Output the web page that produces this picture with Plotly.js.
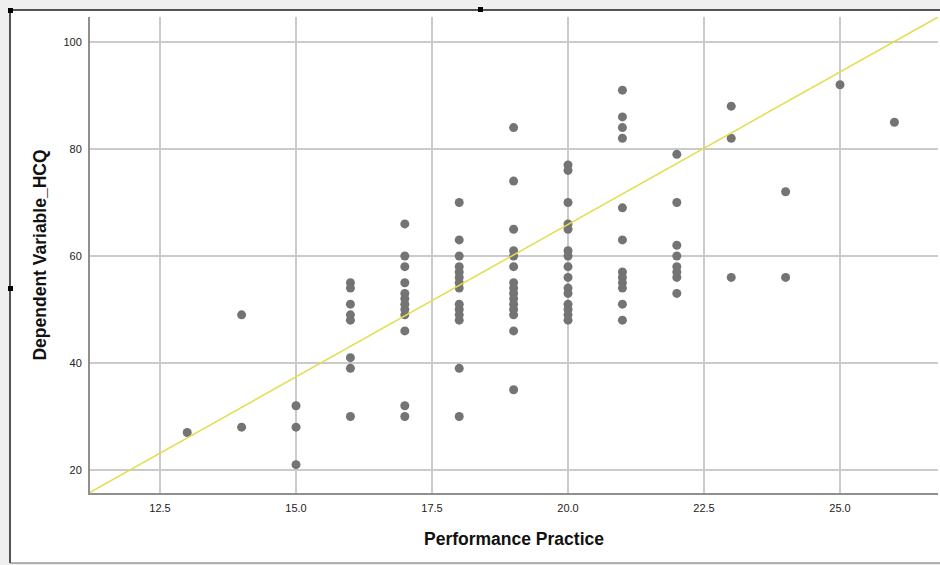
<!DOCTYPE html>
<html>
<head>
<meta charset="utf-8">
<script src="https://cdn.plot.ly/plotly-3.0.1.min.js"></script>
<style>
  html, body { margin: 0; padding: 0; background: #ffffff; }
  #chart { width: 940px; height: 565px; }
</style>
</head>
<body>
<div id="chart"></div>
<script>
// Performance Practice score levels and Dependent Variable_HCQ values observed at each
const practiceLevels = [13, 14, 15, 16, 17, 18, 19, 20, 21, 22, 23, 24, 25, 26];
const hcqAt13 = [27];
const hcqAt14 = [49, 28];
const hcqAt15 = [32, 28, 21];
const hcqAt16 = [55, 54, 51, 49, 48, 41, 39, 30];
const hcqAt17 = [66, 60, 58, 55, 53, 52, 51, 50, 49, 46, 32, 30];
const hcqAt18 = [70, 63, 60, 58, 57, 56, 55, 54, 51, 50, 49, 48, 39, 30];
const hcqAt19 = [84, 74, 65, 61, 60, 58, 55, 54, 53, 52, 51, 50, 49, 46, 35];
const hcqAt20 = [77, 76, 70, 66, 65, 61, 60, 58, 56, 54, 53, 51, 50, 49, 48];
const hcqAt21 = [91, 86, 84, 82, 69, 63, 57, 56, 55, 54, 51, 48];
const hcqAt22 = [79, 70, 62, 60, 58, 57, 56, 53];
const hcqAt23 = [88, 82, 56];
const hcqAt24 = [72, 56];
const hcqAt25 = [92];
const hcqAt26 = [85];
const hcqGroups = [hcqAt13, hcqAt14, hcqAt15, hcqAt16, hcqAt17, hcqAt18, hcqAt19,
                   hcqAt20, hcqAt21, hcqAt22, hcqAt23, hcqAt24, hcqAt25, hcqAt26];

// Linear fit line (total)
const fitIntercept = -48.1;
const fitSlope = 5.70;

// Axis ticks
const xTickValues = [12.5, 15.0, 17.5, 20.0, 22.5, 25.0];
const yTickValues = [20, 40, 60, 80, 100];

const xRange = [11.213, 26.801];
const yRange = [15.70, 104.67];

const xs = [], ys = [];
practiceLevels.forEach((lvl, i) => {
  hcqGroups[i].forEach(v => { xs.push(lvl); ys.push(v); });
});

const fitX = [xRange[0], xRange[1]];
const fitY = fitX.map(x => fitIntercept + fitSlope * x);

const traces = [
  {
    type: 'scatter', mode: 'markers', x: xs, y: ys,
    marker: { color: '#747474', size: 9, line: { width: 0 } },
    hoverinfo: 'x+y', showlegend: false, cliponaxis: true
  },
  {
    type: 'scatter', mode: 'lines', x: fitX, y: fitY,
    line: { color: '#e3dd4f', width: 1.5 },
    hoverinfo: 'skip', showlegend: false
  }
];

// pixel -> paper helpers for the outer chart frame (plot area 90..938 x 17..493)
const L = 90, R = 938, T = 17, B = 493;
const px = v => (v - L) / (R - L);
const py = v => (B - v) / (B - T);

const frameColor = '#1a1a1a';
const shapes = [
  // light grey surround outside the chart frame
  { type: 'rect', xref: 'paper', yref: 'paper', x0: px(-5), x1: px(9), y0: py(570), y1: py(-5), fillcolor: '#efefef', line: { width: 0 }, layer: 'below' },
  { type: 'rect', xref: 'paper', yref: 'paper', x0: px(-5), x1: px(945), y0: py(9), y1: py(-5), fillcolor: '#efefef', line: { width: 0 }, layer: 'below' },
  { type: 'rect', xref: 'paper', yref: 'paper', x0: px(-5), x1: px(945), y0: py(570), y1: py(563), fillcolor: '#efefef', line: { width: 0 }, layer: 'below' },
  // frame lines
  { type: 'line', xref: 'paper', yref: 'paper', x0: px(10), x1: px(945), y0: py(10), y1: py(10), line: { color: frameColor, width: 1.5 } },
  { type: 'line', xref: 'paper', yref: 'paper', x0: px(10), x1: px(10), y0: py(10), y1: py(563), line: { color: frameColor, width: 1.5 } },
  { type: 'line', xref: 'paper', yref: 'paper', x0: px(10), x1: px(945), y0: py(563), y1: py(563), line: { color: '#6a6a6a', width: 1 } },
  // selection handles
  { type: 'rect', xref: 'paper', yref: 'paper', x0: px(8), x1: px(13), y0: py(13), y1: py(8), fillcolor: '#000', line: { width: 0 } },
  { type: 'rect', xref: 'paper', yref: 'paper', x0: px(478), x1: px(483), y0: py(12), y1: py(7), fillcolor: '#000', line: { width: 0 } },
  { type: 'rect', xref: 'paper', yref: 'paper', x0: px(8), x1: px(13), y0: py(291), y1: py(286), fillcolor: '#000', line: { width: 0 } }
];

const tickFont = { family: 'Liberation Sans, Arial, sans-serif', size: 11, color: '#222222' };
const titleFont = { family: 'Liberation Sans, Arial, sans-serif', size: 17.5, color: '#111111', weight: 'bold' };

const layout = {
  width: 940, height: 565,
  margin: { l: L, r: 940 - R, t: T, b: 565 - B, pad: 0 },
  paper_bgcolor: '#ffffff', plot_bgcolor: '#ffffff',
  showlegend: false,
  xaxis: {
    range: xRange, tickvals: xTickValues, tickformat: '.1f',
    showgrid: true, gridcolor: '#cbcbcb', gridwidth: 1.5,
    zeroline: false, showline: true, linecolor: '#8f8f8f', linewidth: 2,
    ticks: '', tickfont: tickFont, ticklabelstandoff: 4,
    title: { text: 'Performance Practice', font: titleFont, standoff: 20 }
  },
  yaxis: {
    range: yRange, tickvals: yTickValues,
    showgrid: true, gridcolor: '#cbcbcb', gridwidth: 1.5,
    zeroline: false, showline: true, linecolor: '#8f8f8f', linewidth: 2,
    ticks: '', tickfont: tickFont, ticklabelstandoff: 4,
    title: { text: 'Dependent Variable_HCQ', font: titleFont, standoff: 12 }
  },
  shapes: shapes
};

Plotly.newPlot('chart', traces, layout, { staticPlot: true, displayModeBar: false });
</script>
</body>
</html>
